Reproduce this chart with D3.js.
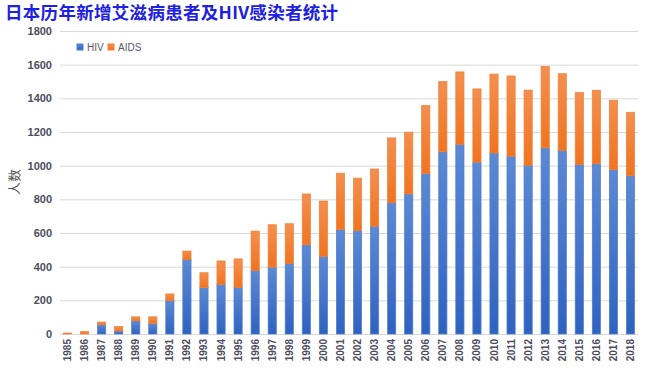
<!DOCTYPE html>
<html>
<head>
<meta charset="utf-8">
<script src="https://cdn.jsdelivr.net/npm/d3@7"></script>
<style>
  body { margin: 0; background: #fff; }
</style>
</head>
<body>
<script>
// chart data
var years = ["1985","1986","1987","1988","1989","1990","1991","1992","1993","1994",
  "1995","1996","1997","1998","1999","2000","2001","2002","2003","2004","2005","2006",
  "2007","2008","2009","2010","2011","2012","2013","2014","2015","2016","2017","2018"];
var hiv = [0, 0, 55, 18, 78, 62, 199, 442, 276, 294, 276, 376, 397, 420, 530, 460,
  621, 614, 640, 780, 832, 952, 1082, 1126, 1021, 1075, 1056, 1002, 1106, 1091,
  1006, 1011, 976, 940];
var aids = [6, 14, 16, 26, 24, 40, 39, 51, 88, 140, 170, 235, 252, 235, 302, 330,
  334, 312, 340, 385, 367, 406, 418, 431, 435, 469, 477, 447, 484, 455, 428, 437,
  413, 377];
var yTicks = [0, 200, 400, 600, 800, 1000, 1200, 1400, 1600, 1800];

var width = 650, height = 380;
var margin = {top: 31, right: 12, bottom: 46, left: 60};

var svg = d3.select("body").append("svg")
    .attr("width", width)
    .attr("height", height);

// gradients for the bars
var defs = svg.append("defs");
function grad(id, top, bottom) {
    var g = defs.append("linearGradient")
        .attr("id", id)
        .attr("x1", 0).attr("y1", 0).attr("x2", 0).attr("y2", 1);
    g.append("stop").attr("offset", "0%").attr("stop-color", top);
    g.append("stop").attr("offset", "100%").attr("stop-color", bottom);
}
grad("gHiv", "#5d89d4", "#2f62c0");
grad("gAids", "#f48f4f", "#ef7420");

var x = d3.scaleBand()
    .domain(years)
    .range([margin.left, width - margin.right])
    .paddingInner(0.52)
    .paddingOuter(0.2);

var y = d3.scaleLinear()
    .domain([0, 1800])
    .range([height - margin.bottom, margin.top]);

// gridlines
svg.append("g")
    .selectAll("line")
    .data(yTicks)
    .enter().append("line")
    .attr("x1", margin.left)
    .attr("x2", width - margin.right)
    .attr("y1", function(d) { return y(d) + 0.5; })
    .attr("y2", function(d) { return y(d) + 0.5; })
    .style("stroke", "#d9d9d9")
    .style("stroke-width", 1);

// y axis labels
var yAxis = svg.append("g")
    .attr("transform", "translate(" + margin.left + ",0)")
    .call(d3.axisLeft(y).tickValues(yTicks).tickFormat(d3.format("d"))
        .tickSize(0).tickPadding(8));
yAxis.select(".domain").remove();
yAxis.selectAll("text")
    .style("font-family", "'Liberation Sans', Arial, sans-serif")
    .style("font-size", "11px")
    .style("font-weight", "bold")
    .style("fill", "#4d4d5e");

// x axis labels
var xAxis = svg.append("g")
    .attr("transform", "translate(0," + y(0) + ")")
    .call(d3.axisBottom(x).tickSize(0).tickPadding(0));
xAxis.select(".domain")
    .style("stroke", "#d9d9d9");
xAxis.selectAll("text")
    .attr("transform", "rotate(-90)")
    .attr("x", -5)
    .attr("y", 0)
    .attr("dy", "0.35em")
    .style("text-anchor", "end")
    .style("font-family", "'Liberation Sans', Arial, sans-serif")
    .style("font-size", "10px")
    .style("font-weight", "bold")
    .style("fill", "#4d4d5e");

// stacked bars
var bars = svg.append("g");
bars.selectAll(".hiv")
    .data(years)
    .enter().append("rect")
    .attr("class", "hiv")
    .attr("x", function(d) { return x(d); })
    .attr("width", x.bandwidth())
    .attr("y", function(d, i) { return y(hiv[i]); })
    .attr("height", function(d, i) { return y(0) - y(hiv[i]); })
    .style("fill", "url(#gHiv)")
    .style("stroke", "#4f7fd0")
    .style("stroke-width", 0.75);

bars.selectAll(".aids")
    .data(years)
    .enter().append("rect")
    .attr("class", "aids")
    .attr("x", function(d) { return x(d); })
    .attr("width", x.bandwidth())
    .attr("y", function(d, i) { return y(hiv[i] + aids[i]); })
    .attr("height", function(d, i) { return y(hiv[i]) - y(hiv[i] + aids[i]); })
    .style("fill", "url(#gAids)")
    .style("stroke", "#f0823a")
    .style("stroke-width", 0.75);

// title
svg.append("text")
    .attr("x", 5)
    .attr("y", 19)
    .text("日本历年新增艾滋病患者及HIV感染者统计")
    .style("font-family", "'Noto Sans CJK SC', sans-serif")
    .style("font-size", "17.5px")
    .style("font-weight", "bold")
    .style("letter-spacing", "0.3px")
    .style("fill", "#2020e0");

// y axis title
svg.append("text")
    .attr("transform", "translate(19,182) rotate(-90)")
    .style("text-anchor", "middle")
    .text("人数")
    .style("font-family", "'Noto Sans CJK SC', sans-serif")
    .style("font-size", "13px")
    .style("fill", "#555");

// legend
var legend = [["HIV", "url(#gHiv)", "#4f7fd0"], ["AIDS", "url(#gAids)", "#f0823a"]];
var lg = svg.append("g").attr("transform", "translate(77,43)");
var lx = [0, 31];
legend.forEach(function(l, i) {
    lg.append("rect")
        .attr("x", lx[i]).attr("y", 1)
        .attr("width", 6).attr("height", 6)
        .style("fill", l[1])
        .style("stroke", l[2]);
    lg.append("text")
        .attr("x", lx[i] + 10).attr("y", 8)
        .text(l[0])
        .style("font-family", "'Liberation Sans', Arial, sans-serif")
        .style("font-size", "10px")
        .style("fill", "#595968");
});
</script>
</body>
</html>
